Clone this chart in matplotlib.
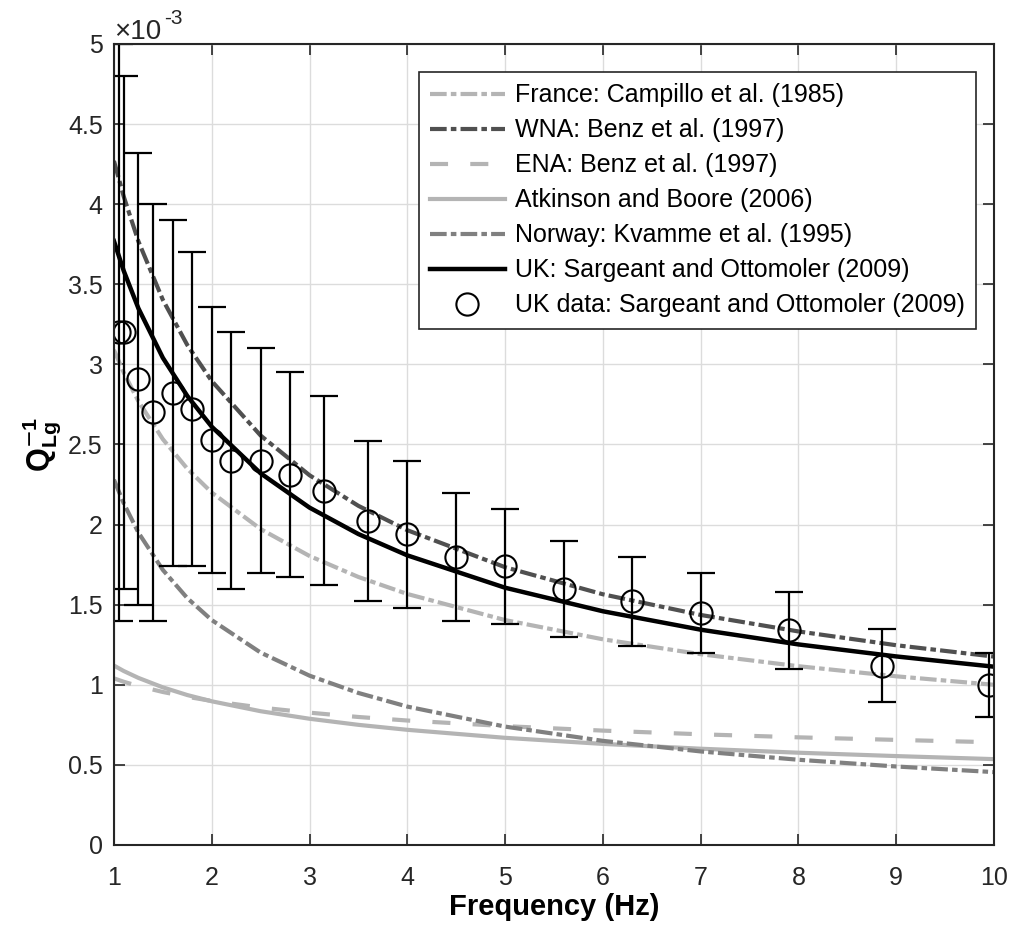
import numpy as np
import matplotlib
matplotlib.use('Agg')
import matplotlib.pyplot as plt

plt.rcParams['font.family'] = ['Liberation Sans', 'DejaVu Sans']
plt.rcParams['mathtext.fontset'] = 'custom'
plt.rcParams['mathtext.rm'] = 'Liberation Sans'
plt.rcParams['mathtext.bf'] = 'Liberation Sans:bold'
plt.rcParams['lines.scale_dashes'] = False

# Q^-1 values in units of 1e-3
freq = [1, 1.1, 1.25, 1.5, 1.75, 2, 2.5, 3, 3.5, 4, 5, 6, 7, 8, 9, 10]
france = [3.090, 2.949, 2.770, 2.533, 2.349, 2.200, 1.972, 1.804, 1.673, 1.567,
          1.404, 1.284, 1.191, 1.116, 1.053, 1.000]
wna = [4.270, 4.048, 3.768, 3.403, 3.121, 2.896, 2.556, 2.308, 2.117, 1.965,
       1.734, 1.565, 1.436, 1.333, 1.247, 1.176]
ena = [1.040, 1.019, 0.992, 0.955, 0.925, 0.899, 0.858, 0.826, 0.799, 0.777,
       0.742, 0.714, 0.691, 0.672, 0.656, 0.641]
ab06 = [1.120, 1.086, 1.043, 0.984, 0.936, 0.897, 0.835, 0.788, 0.750, 0.719,
        0.669, 0.631, 0.601, 0.576, 0.555, 0.536]
norway = [2.280, 2.133, 1.950, 1.717, 1.541, 1.404, 1.201, 1.057, 0.949, 0.864,
          0.739, 0.650, 0.584, 0.532, 0.490, 0.455]
uk = [3.770, 3.584, 3.350, 3.041, 2.803, 2.611, 2.320, 2.106, 1.941, 1.808,
      1.606, 1.459, 1.344, 1.252, 1.177, 1.113]

# UK data points with error bars
data_f = [1.05, 1.1, 1.25, 1.4, 1.6, 1.8, 2.0, 2.2, 2.5, 2.8, 3.15, 3.6, 4.0,
          4.5, 5.0, 5.6, 6.3, 7.0, 7.9, 8.85, 9.95]
data_q = [3.20, 3.20, 2.91, 2.70, 2.82, 2.72, 2.53, 2.40, 2.40, 2.31, 2.21, 2.02,
          1.94, 1.80, 1.74, 1.60, 1.52, 1.45, 1.34, 1.12, 1.00]
data_err = [1.80, 1.60, 1.41, 1.30, 1.08, 0.98, 0.83, 0.80, 0.70, 0.64, 0.59, 0.50,
            0.46, 0.40, 0.36, 0.30, 0.28, 0.25, 0.24, 0.23, 0.20]

fig = plt.figure(figsize=(10.12, 9.34), dpi=100)
ax = fig.add_axes([0.1126, 0.0953, 0.8696, 0.8576])

dashdot = (12, 3, 4, 3)
ax.plot(freq, france, color='#b4b4b4', lw=3, dashes=dashdot,
        label='France: Campillo et al. (1985)')
ax.plot(freq, wna, color='#505050', lw=3, dashes=dashdot,
        label='WNA: Benz et al. (1997)')
ax.plot(freq, ena, color='#b4b4b4', lw=3, dashes=(13, 16),
        label='ENA: Benz et al. (1997)')
ax.plot(freq, ab06, color='#b4b4b4', lw=3, ls='-',
        label='Atkinson and Boore (2006)')
ax.plot(freq, norway, color='#808080', lw=3, dashes=dashdot,
        label='Norway: Kvamme et al. (1995)')
ax.plot(freq, uk, color='black', lw=3.2, ls='-',
        label='UK: Sargeant and Ottomoler (2009)')

ax.errorbar(data_f, data_q, yerr=data_err, fmt='none', ecolor='black',
            elinewidth=1.6, capsize=10, capthick=1.6)
ax.plot(data_f, data_q, 'o', ms=16, mfc='none', mec='black', mew=1.5,
        label='UK data: Sargeant and Ottomoler (2009)')

ax.set_xlim(1, 10)
ax.set_ylim(0, 5)
ax.set_xticks(range(1, 11))
ax.set_yticks(np.arange(0, 5.01, 0.5))
ax.set_yticklabels(['%g' % v for v in np.arange(0, 5.01, 0.5)])
ax.grid(True, color='#dcdcdc', lw=1)
ax.set_axisbelow(True)
ax.tick_params(direction='in', length=8, width=1.2, labelsize=18,
               top=True, right=True, colors='#262626')
ax.tick_params(axis='x', pad=15)
ax.tick_params(axis='y', pad=8)
for s in ax.spines.values():
    s.set_color('#262626')
    s.set_linewidth(1.5)

ax.set_xlabel('Frequency (Hz)', fontsize=21, fontweight='bold', labelpad=2.5)
ax.set_ylabel(r'$\mathbf{Q^{\mathsf{-}1}_{Lg}}$', fontsize=22, labelpad=4)
ax.text(0.0, 0.999, '\u00d710', transform=ax.transAxes, fontsize=20,
        ha='left', va='bottom', color='#262626')
ax.text(0.057, 1.020, '-3', transform=ax.transAxes, fontsize=15,
        ha='left', va='bottom', color='#262626')

leg = ax.legend(loc='upper right', bbox_to_anchor=(0.9795, 0.965), fontsize=18,
                handlelength=3.0, labelspacing=0.44, borderpad=0.45,
                handletextpad=0.4, borderaxespad=0, fancybox=False,
                framealpha=1)
leg.get_frame().set_edgecolor('#262626')
leg.get_frame().set_linewidth(1.2)

fig.savefig('out.png', dpi=100)
